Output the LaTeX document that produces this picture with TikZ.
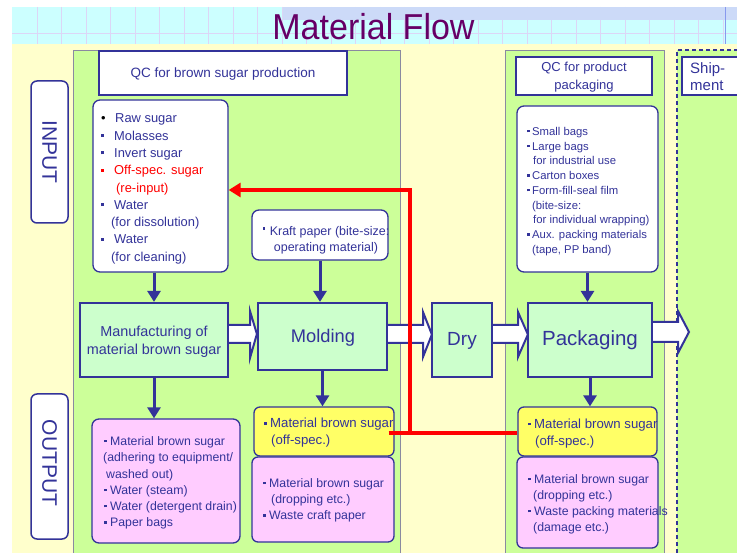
\documentclass[tikz,border=0pt]{standalone}
\usepackage{fontspec}
\setmainfont{Liberation Sans}
\usetikzlibrary{arrows.meta,calc}
\definecolor{bl}{HTML}{333399}
\definecolor{pgreen}{HTML}{CCFF99}
\definecolor{procg}{HTML}{CCFFCC}
\definecolor{pyellow}{HTML}{FFFFCC}
\definecolor{cyanb}{HTML}{CCFFFF}
\definecolor{lav}{HTML}{CCDAF8}
\definecolor{gridc}{HTML}{DCD6F6}
\definecolor{boxy}{HTML}{FFFF66}
\definecolor{boxp}{HTML}{FFCCFF}
\definecolor{titlec}{HTML}{660066}
\definecolor{panelgray}{HTML}{8A8AA0}
\definecolor{vline}{HTML}{8899EE}
\newcommand\kd{\makebox[13pt][l]{\raisebox{3.2pt}{\rule{2.8pt}{2.8pt}}}}
\newcommand\kn{\makebox[6pt][l]{\raisebox{3.2pt}{\rule{2.6pt}{2.6pt}}}}
\newcommand\ks{\makebox[5pt][l]{\raisebox{3pt}{\rule{2.4pt}{2.4pt}}}}
\tikzset{
 panel/.style={fill=pgreen, draw=panelgray, line width=0.8pt},
 wbox/.style={fill=white, draw=bl, line width=1.1pt, inner sep=0pt},
 lbox/.style={fill=white, draw=bl, line width=1.5pt, rounded corners=6pt, inner sep=0pt},
 rbox/.style={draw=bl, line width=1.3pt, rounded corners=7pt, inner sep=0pt},
 proc/.style={fill=procg, draw=bl, line width=2.2pt, inner sep=0pt},
 txt/.style={text=bl, inner sep=0pt, align=left, font=\fontsize{12.3}{16.3}\selectfont},
 flow/.style={draw=bl, line width=3pt, -{Triangle[width=13pt,length=11pt]}},
 fat/.style={fill=white, draw=bl, line width=2pt, line join=miter},
 redline/.style={draw=red, line width=3.5pt},
}
\begin{document}
\begin{tikzpicture}[x=1pt,y=-1pt]
\useasboundingbox (0,0) rectangle (737,553);
% background
\fill[white] (0,0) rectangle (737,553);
\fill[pyellow] (12,44) rectangle (737,553);
\fill[cyanb] (12,7) rectangle (737,44);
\foreach \k in {0,...,28} \draw[gridc, line width=0.8pt] ({37+24.5*\k},7) -- ({37+24.5*\k},44);
\draw[gridc, line width=0.8pt] (12,33) -- (737,33);
\fill[lav] (283,7) rectangle (737,20);
\draw[vline, line width=1pt] (725,7) -- (725,44);
\node[text=titlec, inner sep=0pt, anchor=base, font=\fontsize{34}{34}\selectfont] (title) at (373.5,40) {\scalebox{1}[1.06]{Material Flow}};
% panels
\draw[panel] (73,50) rectangle (400,560);
\draw[panel] (505,50) rectangle (664,560);
\fill[pgreen] (677,50) rectangle (740,560);
\draw[bl, line width=1.6pt, dash pattern=on 4pt off 3pt] (677,560) -- (677,50) -- (740,50);
% side labels
\node[lbox, minimum width=37pt, minimum height=142pt] (inlab) at (49.5,152) {};
\node[text=bl, rotate=-90, inner sep=0pt, font=\fontsize{21}{21}\selectfont] (inlabt) at (49.5,152) {INPUT};
\node[lbox, minimum width=37pt, minimum height=145pt] (outlab) at (49.5,466.5) {};
\node[text=bl, rotate=-90, inner sep=0pt, font=\fontsize{21}{21}\selectfont] (outlabt) at (49.5,463) {OUTPUT};
% QC boxes
\node[wbox, minimum width=248pt, minimum height=44pt] (qc1) at (223,73) {};
\node[txt, font=\fontsize{13.5}{16}\selectfont] (qc1t) at (223,74) {QC for brown sugar production};
\node[wbox, minimum width=136pt, minimum height=38pt] (qc2) at (584,76) {};
\node[txt, align=center, font=\fontsize{13}{18}\selectfont] (qc2t) at (584,77) {QC for product\\packaging};
\node[wbox, minimum width=63pt, minimum height=38pt] (ship) at (713.5,76) {};
\node[txt, anchor=west, font=\fontsize{15}{17}\selectfont] (shipt) at (690,77) {Ship-\\ment};
% input boxes
\node[rbox, fill=white, minimum width=135pt, minimum height=172pt] (in1) at (160.5,186) {};
\node[rbox, fill=white, minimum width=136pt, minimum height=50pt] (kraft) at (320,235) {};
\node[rbox, fill=white, minimum width=141pt, minimum height=166pt] (packin) at (587.5,189) {};
% process boxes
\node[proc, minimum width=148pt, minimum height=74pt] (man) at (154,340) {};
\node[proc, minimum width=129pt, minimum height=67pt] (mold) at (322.5,336.5) {};
\node[proc, minimum width=60pt, minimum height=74pt] (dry) at (462,340) {};
\node[proc, minimum width=124pt, minimum height=74pt] (pack) at (590,340) {};
% output boxes
\node[rbox, fill=boxp, minimum width=148pt, minimum height=124pt] (out1) at (166,481) {};
\node[rbox, rounded corners=6pt, fill=boxy, minimum width=140pt, minimum height=49pt] (myel) at (324,431.5) {};
\node[rbox, rounded corners=6pt, fill=boxp, minimum width=142pt, minimum height=85pt] (mpink) at (323,499.5) {};
\node[rbox, rounded corners=6pt, fill=boxy, minimum width=139pt, minimum height=49pt] (pyel) at (587.5,431.5) {};
\node[rbox, rounded corners=6pt, fill=boxp, minimum width=141pt, minimum height=91pt] (ppink) at (587.5,502.5) {};
% vertical flow arrows
\draw[flow] (in1.south -| man.north) -- (man.north);
\draw[flow] (kraft.south) -- (kraft.south |- mold.north);
\draw[flow] (packin.south) -- (packin.south |- pack.north);
\draw[flow] (man.south) -- (man.south |- out1.north);
\draw[flow] (mold.south) -- (mold.south |- myel.north);
\draw[flow] (pack.south) -- (pack.south |- pyel.north);
% fat arrows
\coordinate (shipin) at (689,332);
\draw[fat] (man.east |- 0,325) -- (250,325) -- (250,311) -- (mold.west |- 0,334) -- (250,358) -- (250,343) -- (man.east |- 0,343);
\draw[fat] (mold.east |- 0,325) -- (423,325) -- (423,312) -- ([xshift=1pt]dry.west |- 0,334.5) -- (423,357) -- (423,343) -- (mold.east |- 0,343);
\draw[fat] (dry.east |- 0,325) -- (518,325) -- (518,312) -- ([xshift=1pt]pack.west |- 0,334.5) -- (518,357) -- (518,343) -- (dry.east |- 0,343);
\draw[fat] (pack.east |- 0,322) -- (678,322) -- (678,311) -- (shipin) -- (678,353) -- (678,342) -- (pack.east |- 0,342);
% red return line
\coordinate (rj) at (410,433);
\draw[redline] ([xshift=-6pt]myel.east |- 0,433) -- (pyel.west |- 0,433);
\draw[redline, -{Triangle[width=14pt,length=12pt]}, line join=miter] (rj) |- (in1.east |- 0,190);
% process texts
\node[txt, align=center, font=\fontsize{14.4}{18}\selectfont] (mant) at (154,341.5) {Manufacturing of\\material brown sugar};
\node[txt, font=\fontsize{18.3}{20}\selectfont] (moldt) at (323,338) {Molding};
\node[txt, font=\fontsize{19}{20}\selectfont] (dryt) at (462,341) {Dry};
\node[txt, font=\fontsize{20.5}{22}\selectfont] (packt) at (590,340) {Packaging};
% input texts
\node[txt, anchor=west, font=\fontsize{12.9}{17.3}\selectfont] (in1t) at (101,189) {\textcolor{black}{\makebox[14pt][l]{•}}Raw sugar\\\kd Molasses\\\kd Invert sugar\\\textcolor{red}{\kd Off-spec. sugar}\\\textcolor{red}{\hspace{15pt}(re-input)}\\\kd Water\\\hspace{10pt}(for dissolution)\\\kd Water\\\hspace{10pt}(for cleaning)};
\node[txt, align=center, font=\fontsize{12.5}{16}\selectfont] (kraftt) at (326,240) {\makebox[7pt][l]{\raisebox{5.5pt}{\rule{2.6pt}{2.6pt}}}Kraft paper (bite-size:\\operating material)};
\node[txt, anchor=west, font=\fontsize{11.3}{14.75}\selectfont] (packint) at (527,191.5) {\ks Small bags\\\ks Large bags\\\hspace{6pt}for industrial use\\\ks Carton boxes\\\ks Form-fill-seal film\\\hspace{5pt}(bite-size:\\\hspace{6pt}for individual wrapping)\\\ks Aux. packing materials\\\hspace{5pt}(tape, PP band)};
% output texts
\node[txt, anchor=west] (out1t) at (103,483) {\hspace{1pt}\kn Material brown sugar\\(adhering to equipment/\\\hspace{3pt}washed out)\\\hspace{1pt}\kn Water (steam)\\\hspace{1pt}\kn Water (detergent drain)\\\hspace{1pt}\kn Paper bags};
\node[txt, anchor=west, font=\fontsize{13.2}{17}\selectfont] (myelt) at (263,433) {\hspace{1pt}\kn Material brown sugar\\\hspace{8pt}(off-spec.)};
\node[txt, anchor=west] (mpinkt) at (262,500.5) {\hspace{1pt}\kn Material brown sugar\\\hspace{9pt}(dropping etc.)\\\hspace{1pt}\kn Waste craft paper};
\node[txt, anchor=west, font=\fontsize{13.2}{17}\selectfont] (pyelt) at (527,433.5) {\hspace{1pt}\kn Material brown sugar\\\hspace{8pt}(off-spec.)};
\node[txt, anchor=west, font=\fontsize{12.3}{16}\selectfont] (ppinkt) at (527,504.5) {\hspace{1pt}\kn Material brown sugar\\\hspace{6pt}(dropping etc.)\\\hspace{1pt}\kn Waste packing materials\\\hspace{6pt}(damage etc.)};
\end{tikzpicture}
\end{document}
